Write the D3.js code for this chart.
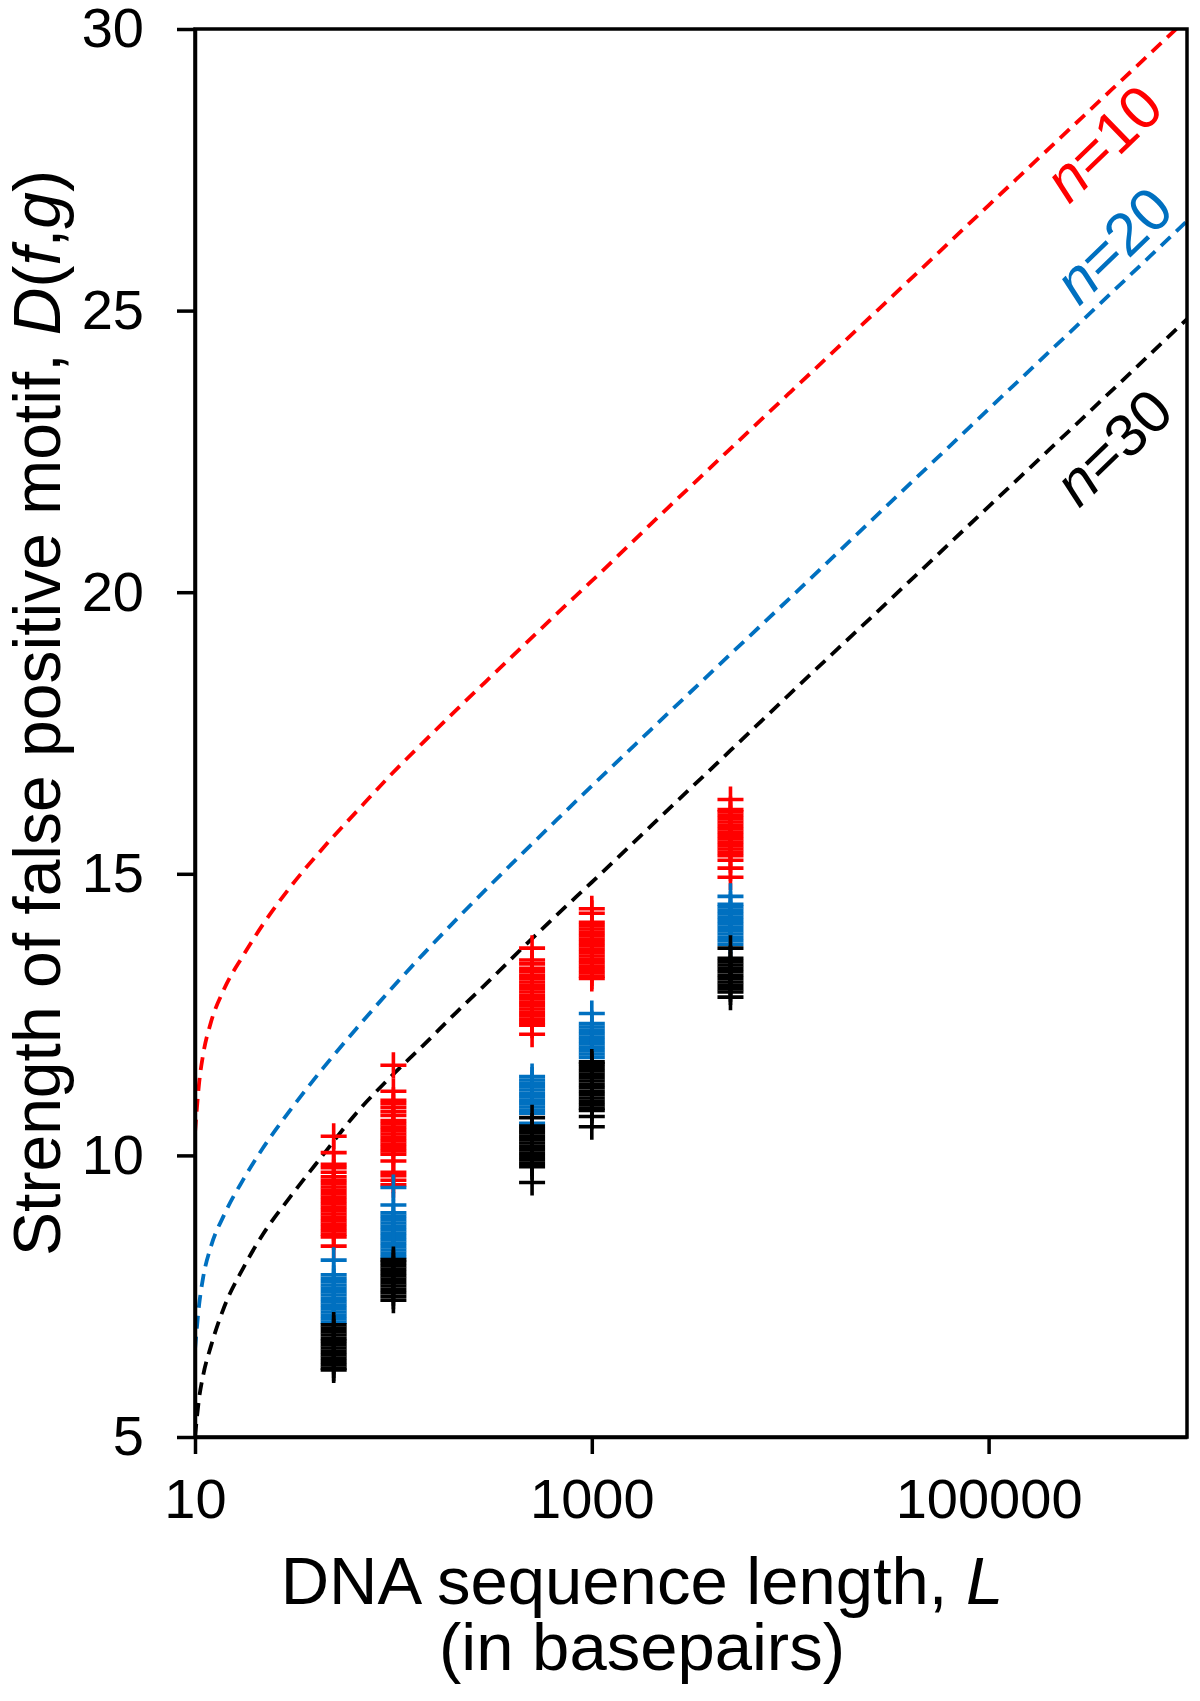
<!DOCTYPE html>
<html>
<head>
<meta charset="utf-8">
<script src="https://cdn.jsdelivr.net/npm/d3@7"></script>
<style>
  html, body { margin: 0; padding: 0; background: #fff; }
  svg { display: block; }
  text { font-family: Arial, "Liberation Sans", Helvetica, sans-serif; }
</style>
</head>
<body>
<svg id="chart" width="1200" height="1701"></svg>
<script>
// ---------- data ----------
const xTickValues = [10, 1000, 100000];
const yTickValues = [5, 10, 15, 20, 25, 30];
const xTitle = "DNA sequence length, ";
const xTitleItalic = "L";
const xTitle2 = "(in basepairs)";
const yTitle = "Strength of false positive motif, ";
const seriesNames = ["n=10", "n=20", "n=30"];
const seriesColors = ["#FF0000", "#0070C0", "#000000"];

// theoretical curves [L, D]
const curveN10 = [[10,10.4],[10.5,11.3],[11,11.8],[12,12.35],[14,12.95],[17.5,13.55],[22,14.1],[30,14.75],[44,15.45],[65,16.1],[96,16.74],[141,17.33],[209,17.92],[308,18.49],[452,19.05],[667,19.62],[1000,20.2],[2000,21.22],[5000,22.55],[10000,23.55],[30000,25.13],[100000,26.87],[300000,28.45],[800000,29.86],[900000,30.03]];
const curveN20 = [[10,6.55],[10.5,7.36],[11,7.84],[12,8.37],[14,8.94],[17.5,9.57],[22,10.13],[30,10.79],[44,11.54],[65,12.25],[96,12.93],[141,13.57],[209,14.2],[308,14.8],[452,15.38],[667,15.96],[1000,16.56],[2000,17.57],[5000,18.9],[10000,19.9],[30000,21.5],[100000,23.25],[300000,24.84],[1000000,26.59]];
const curveN30 = [[10,5.0],[10.5,5.7],[11,6.1],[12,6.6],[14,7.3],[17.5,8.0],[22,8.6],[30,9.25],[44,10.0],[65,10.75],[96,11.38],[141,11.95],[209,12.55],[308,13.12],[452,13.7],[667,14.27],[1000,14.85],[2000,15.86],[5000,17.19],[10000,18.2],[30000,19.78],[100000,21.52],[300000,23.1],[1000000,24.85]];

// simulated false-positive strengths per sequence length
const lengths = [50, 100, 500, 1000, 5000];
const simN10 = [
  [10.34,10.05,9.84,9.78,9.70,9.62,9.56,9.50,9.44,9.38,9.32,9.26,9.20,9.14,9.08,9.02,8.96,8.90,8.84,8.78,8.72,8.66,8.60,8.55,8.39],
  [11.60,11.14,10.98,10.92,10.85,10.78,10.71,10.62,10.56,10.50,10.44,10.38,10.32,10.26,10.20,10.14,10.08,10.02,9.90,9.70,9.64,9.56,9.48],
  [13.68,13.47,13.40,13.32,13.26,13.20,13.14,13.08,13.02,12.96,12.90,12.84,12.78,12.72,12.66,12.60,12.54,12.48,12.42,12.36,12.31,12.15],
  [14.38,14.30,14.14,14.08,14.02,13.96,13.90,13.84,13.78,13.72,13.66,13.60,13.54,13.48,13.42,13.36,13.30,13.24,13.18,13.14],
  [16.32,16.14,16.10,16.04,15.98,15.92,15.86,15.80,15.74,15.68,15.62,15.56,15.50,15.44,15.38,15.32,15.24,15.10,14.94]
];
const simN20 = [
  [8.14,7.88,7.82,7.76,7.70,7.64,7.58,7.52,7.46,7.40,7.34,7.28,7.22,7.16,7.10,7.04],
  [9.43,9.12,8.98,8.92,8.86,8.80,8.74,8.68,8.62,8.56,8.50,8.44,8.38,8.32,8.26,8.20],
  [11.40,11.34,11.28,11.22,11.16,11.10,11.04,10.98,10.92,10.86,10.80,10.75,10.57],
  [12.52,12.34,12.28,12.22,12.16,12.10,12.04,11.98,11.92,11.86,11.80,11.74],
  [14.60,14.46,14.41,14.35,14.29,14.23,14.17,14.11,14.05,13.99,13.93,13.87,13.81,13.75]
];
const simN30 = [
  [6.99,6.93,6.87,6.81,6.75,6.70,6.64,6.58,6.52,6.46,6.40,6.34,6.28,6.22,6.19],
  [8.15,8.10,8.04,7.98,7.92,7.86,7.80,7.74,7.68,7.62,7.56,7.50,7.43],
  [10.67,10.52,10.46,10.40,10.34,10.28,10.22,10.16,10.10,10.04,9.98,9.92,9.86,9.80,9.52],
  [11.66,11.62,11.56,11.50,11.44,11.38,11.32,11.26,11.20,11.14,11.08,11.02,10.96,10.90,10.84,10.80,10.69,10.51],
  [13.68,13.50,13.44,13.38,13.32,13.26,13.20,13.14,13.08,13.02,12.96,12.90,12.81]
];

// ---------- layout ----------
const plot = { left: 195, right: 1187, top: 29, bottom: 1437 };

const svg = d3.select("#chart");
const x = d3.scaleLog().domain([10, 1000000]).range([plot.left, plot.right]);
const y = d3.scaleLinear().domain([5, 30]).range([plot.bottom, plot.top]);

svg.append("defs").append("clipPath").attr("id", "clip")
  .append("rect").attr("x", plot.left).attr("y", plot.top)
  .attr("width", plot.right - plot.left).attr("height", plot.bottom - plot.top);

// curves
const line = d3.line().x(d => x(d[0])).y(d => y(d[1])).curve(d3.curveMonotoneX);
const curves = [curveN10, curveN20, curveN30];
const gCurves = svg.append("g").attr("clip-path", "url(#clip)");
curves.forEach((c, i) => {
  gCurves.append("path").datum(c).attr("d", line)
    .attr("fill", "none").attr("stroke", seriesColors[i])
    .attr("stroke-width", 3.8).attr("stroke-dasharray", "13,8");
});

// markers (red first, then blue, then black on top)
const sims = [simN10, simN20, simN30];
const plusPath = "M-13,0H13M0,-13V13";
sims.forEach((sim, i) => {
  const g = svg.append("g");
  lengths.forEach((L, j) => {
    g.selectAll(null).data(sim[j]).enter().append("path")
      .attr("d", plusPath)
      .attr("transform", v => `translate(${x(L)},${y(v)})`)
      .attr("fill", "none").attr("stroke", seriesColors[i]).attr("stroke-width", 3.6);
  });
});

// frame
svg.append("rect").attr("x", plot.left).attr("y", plot.top)
  .attr("width", plot.right - plot.left).attr("height", plot.bottom - plot.top)
  .attr("fill", "none").attr("stroke", "#000").attr("stroke-width", 3.5);

// axes
const xAxis = d3.axisBottom(x).tickValues(xTickValues).tickFormat(d3.format("d"))
  .tickSize(17).tickSizeOuter(0).tickPadding(24);
const yAxis = d3.axisLeft(y).tickValues(yTickValues).tickFormat(d3.format("d"))
  .tickSize(18).tickSizeOuter(0).tickPadding(33);

const gx = svg.append("g").attr("transform", `translate(0,${plot.bottom})`).call(xAxis);
const gy = svg.append("g").attr("transform", `translate(${plot.left},0)`).call(yAxis);
[gx, gy].forEach(g => {
  g.select(".domain").attr("stroke", "#000").attr("stroke-width", 3.5);
  g.selectAll(".tick line").attr("stroke", "#000").attr("stroke-width", 3.5);
  g.selectAll(".tick text").attr("fill", "#000")
    .style("font-family", "Arial, 'Liberation Sans', sans-serif").style("font-size", "56px");
});

// axis titles
const xt = svg.append("text").attr("x", 642).attr("y", 1604).attr("text-anchor", "middle")
  .style("font-size", "67px").attr("fill", "#000");
xt.append("tspan").text(xTitle);
xt.append("tspan").style("font-style", "italic").text(xTitleItalic);
svg.append("text").attr("x", 642).attr("y", 1670).attr("text-anchor", "middle")
  .style("font-size", "67px").attr("fill", "#000").text(xTitle2);

const yt = svg.append("text").attr("transform", "translate(60,713) rotate(-90)")
  .attr("text-anchor", "middle").style("font-size", "66px").attr("fill", "#000");
yt.append("tspan").text(yTitle);
yt.append("tspan").style("font-style", "italic").text("D");
yt.append("tspan").text("(");
yt.append("tspan").style("font-style", "italic").text("f");
yt.append("tspan").text(",");
yt.append("tspan").style("font-style", "italic").text("g");
yt.append("tspan").text(")");

// series labels
const labelPos = [[1103, 143], [1113, 245], [1113, 447]];
seriesNames.forEach((name, i) => {
  const t = svg.append("text")
    .attr("transform", `translate(${labelPos[i][0]},${labelPos[i][1]}) rotate(-44)`)
    .attr("text-anchor", "middle").attr("dominant-baseline", "central")
    .style("font-size", "60px").attr("fill", seriesColors[i]);
  t.append("tspan").style("font-style", "italic").text(name.slice(0, 1));
  t.append("tspan").text(name.slice(1));
});
</script>
